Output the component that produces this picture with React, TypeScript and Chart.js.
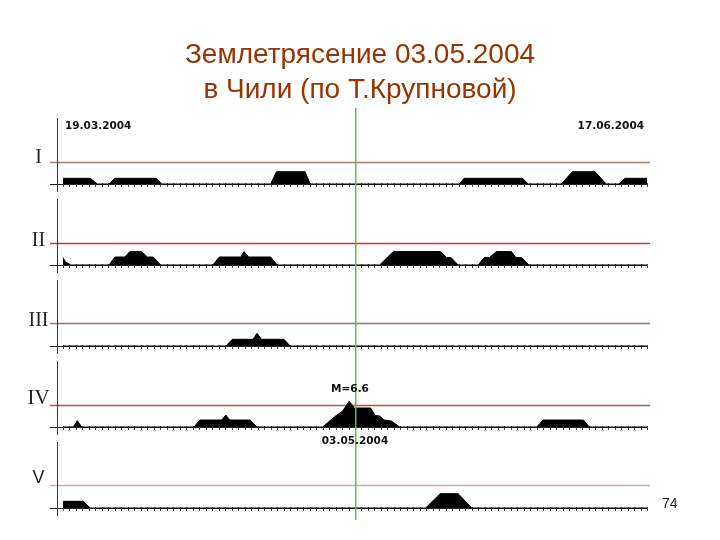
import React, { useEffect, useRef } from "react";
import { Chart, registerables } from "chart.js";

Chart.register(...registerables);

// ---------- text ----------
const TITLE_LINES = ["Землетрясение 03.05.2004", "в Чили (по Т.Крупновой)"];
const PANEL_NAMES = ["I", "II", "III", "IV", "V"];
const START_LABEL = "19.03.2004";
const END_LABEL = "17.06.2004";
const EVENT_LABEL = "03.05.2004";
const MAG_LABEL = "M=6.6";
const PAGE_NUMBER = "74";

// ---------- time axis (days since 19.03.2004) ----------
const DAY_COUNT = 90;
const EVENT_DAY = 45;

// ---------- threshold level of each panel ----------
const THRESHOLDS = [21.7, 22.4, 22.7, 22, 22.6];

// ---------- series: [day, value] ----------
const PANEL_I: [number, number][] = [
  [0, 5.7], [4.2, 5.7], [5.3, 0], [7.1, 0], [8, 5.7], [14.4, 5.7], [15.2, 0],
  [32, 0], [32.9, 12.3], [37.3, 12.3], [38.1, 0],
  [61.1, 0], [61.8, 5.7], [70.8, 5.7], [71.7, 0],
  [76.8, 0], [78.5, 12.3], [82, 12.3], [83.7, 0],
  [85.7, 0], [86.6, 5.7], [90, 5.7],
];
const PANEL_II: [number, number][] = [
  [0, 7.4], [0.4, 3], [1.2, 0], [7.1, 0], [8, 8], [9.55, 8], [10.3, 13.4], [12.1, 13.4],
  [13, 8], [13.9, 8], [15.05, 0],
  [23.1, 0], [24.1, 8], [27.4, 8], [27.9, 13.4], [28.6, 8], [32, 8], [33, 0],
  [48.8, 0], [50.9, 13.4], [58.2, 13.4], [59.1, 7.4], [59.8, 7.4], [60.9, 0],
  [64, 0], [64.9, 7.4], [65.7, 7.4], [66.8, 13.4], [69.1, 13.4], [69.8, 7.4], [70.7, 7.4], [71.8, 0],
  [90, 0],
];
const PANEL_III: [number, number][] = [
  [0, 0], [25.1, 0], [26.1, 6.7], [29.3, 6.7], [29.9, 12.7], [30.6, 6.7], [34.05, 6.7], [35, 0],
  [90, 0],
];
const PANEL_IV: [number, number][] = [
  [0, 0], [1.6, 0], [2.2, 6.3], [2.9, 0],
  [20.2, 0], [21.1, 7], [24.45, 7], [25.1, 12], [25.7, 7], [28.8, 7], [29.9, 0],
  [40, 0], [41.8, 10], [43.1, 16], [44.1, 25.7], [44.6, 21.7], [45, 18], [45.1, 19],
  [47.4, 19], [48.1, 11.5], [48.8, 11], [49.5, 7], [50.6, 6], [51.9, 0],
  [73, 0], [74, 7], [80.2, 7], [81.1, 0],
  [90, 0],
];
const PANEL_V: [number, number][] = [
  [0, 6.7], [3.1, 6.7], [4.2, 0], [55.9, 0], [58.1, 14.3], [60.9, 14.3], [63, 0], [90, 0],
];
const PANELS = [PANEL_I, PANEL_II, PANEL_III, PANEL_IV, PANEL_V];

// ---------- layout / styles ----------
const W = 720;
const H = 540;
const AREA_LEFT = 50;
const AREA_RIGHT = 650;
const AREA_TOP = 100;
const AREA_BOTTOM = 530;
const X_MIN = -2;
const X_MAX = 90.46;
const FIRST_BASELINE = 184;
const PANEL_STEP = 81;
const THRESHOLD_COLORS = ["#b07868", "#cc3344", "#9a7070", "#b05a40", "#d8a0b8"];
const NAME_Y_OFFSETS = [-26, -24, -25, -29, -30];
const NAME_FONTS = [
  "20px 'Liberation Serif', 'DejaVu Serif', serif",
  "20px 'Liberation Serif', 'DejaVu Serif', serif",
  "20px 'Liberation Serif', 'DejaVu Serif', serif",
  "21px 'Liberation Serif', 'DejaVu Serif', serif",
  "18px 'Liberation Sans', Arial, sans-serif",
];
const SMALL_BOLD = "bold 10.5px 'DejaVu Sans', Verdana, sans-serif";
const EVENT_LINE_COLOR = "rgb(80, 200, 60)";

const baselineOf = (k: number) => FIRST_BASELINE + k * PANEL_STEP;

const overlayPlugin = {
  id: "seismoOverlay",
  beforeDatasetsDraw(chart: any) {
    const ctx = chart.ctx as CanvasRenderingContext2D;
    const xs = chart.scales.x;
    const { left, right } = chart.chartArea;
    ctx.save();
    PANELS.forEach((_, k) => {
      const ys = chart.scales["y" + k];
      const y0 = Math.round(ys.getPixelForValue(0)) + 0.5;
      const yt = Math.round(ys.getPixelForValue(THRESHOLDS[k])) + 0.5;
      // threshold line
      ctx.strokeStyle = THRESHOLD_COLORS[k];
      ctx.lineWidth = 1.3;
      ctx.beginPath();
      ctx.moveTo(left, yt);
      ctx.lineTo(right, yt);
      ctx.stroke();
      // baseline
      ctx.strokeStyle = "#222";
      ctx.lineWidth = 1;
      ctx.beginPath();
      ctx.moveTo(left, y0);
      ctx.lineTo(xs.getPixelForValue(DAY_COUNT) + 1, y0);
      ctx.stroke();
      // daily ticks
      ctx.strokeStyle = "#444";
      ctx.beginPath();
      for (let d = 0; d <= DAY_COUNT; d++) {
        const x = Math.round(xs.getPixelForValue(d)) + 0.5;
        ctx.moveTo(x, y0 - 1.5);
        ctx.lineTo(x, y0 + 2.5);
      }
      ctx.stroke();
      // vertical axis of panel
      const ax = Math.round(xs.getPixelForValue(-0.9)) + 0.5;
      ctx.strokeStyle = "#333";
      ctx.beginPath();
      ctx.moveTo(ax, ys.getPixelForValue(66));
      ctx.lineTo(ax, ys.getPixelForValue(-8));
      ctx.stroke();
    });
    ctx.restore();
  },
  afterDatasetsDraw(chart: any) {
    const ctx = chart.ctx as CanvasRenderingContext2D;
    const xs = chart.scales.x;
    ctx.save();
    // event line
    const ex = Math.round(xs.getPixelForValue(EVENT_DAY));
    ctx.fillStyle = EVENT_LINE_COLOR;
    ctx.fillRect(ex, 108, 1.5, 412);

    // title
    ctx.fillStyle = "#993300";
    ctx.font = "28px 'Liberation Sans', Arial, sans-serif";
    ctx.textAlign = "center";
    ctx.textBaseline = "alphabetic";
    ctx.fillText(TITLE_LINES[0], W / 2, 63);
    ctx.fillText(TITLE_LINES[1], W / 2, 98);

    // panel names
    ctx.fillStyle = "#222";
    ctx.textBaseline = "middle";
    PANEL_NAMES.forEach((name, k) => {
      ctx.font = NAME_FONTS[k];
      ctx.textAlign = "center";
      ctx.fillText(name, 38.5, baselineOf(k) + NAME_Y_OFFSETS[k]);
    });

    // date labels
    ctx.font = SMALL_BOLD;
    ctx.fillStyle = "#111";
    ctx.textAlign = "left";
    ctx.fillText(START_LABEL, xs.getPixelForValue(0) + 2, 126);
    ctx.textAlign = "right";
    ctx.fillText(END_LABEL, xs.getPixelForValue(DAY_COUNT) - 3, 126);
    ctx.textAlign = "center";
    ctx.fillText(MAG_LABEL, xs.getPixelForValue(EVENT_DAY) - 5, 389);
    ctx.fillText(EVENT_LABEL, xs.getPixelForValue(EVENT_DAY), 441);

    // page number
    ctx.font = "14px 'Liberation Sans', Arial, sans-serif";
    ctx.fillStyle = "#222";
    ctx.textAlign = "left";
    ctx.fillText(PAGE_NUMBER, 662, 504);
    ctx.restore();
  },
};

export default function App() {
  const ref = useRef<HTMLCanvasElement | null>(null);

  useEffect(() => {
    if (!ref.current) return;
    const scales: any = {
      x: { type: "linear", display: false, min: X_MIN, max: X_MAX },
    };
    PANELS.forEach((_, k) => {
      const b = baselineOf(k);
      scales["y" + k] = {
        type: "linear",
        display: false,
        min: b - AREA_BOTTOM,
        max: b - AREA_TOP,
      };
    });
    const chart = new Chart(ref.current, {
      type: "line",
      data: {
        datasets: PANELS.map((pts, k) => ({
          label: PANEL_NAMES[k],
          data: pts.map(([x, y]) => ({ x, y })),
          yAxisID: "y" + k,
          fill: "origin",
          backgroundColor: "#000",
          borderColor: "#000",
          borderWidth: 1,
          pointRadius: 0,
          tension: 0,
        })),
      },
      options: {
        responsive: false,
        animation: false,
        layout: {
          padding: {
            left: AREA_LEFT,
            right: W - AREA_RIGHT,
            top: AREA_TOP,
            bottom: H - AREA_BOTTOM,
          },
        },
        scales,
        plugins: {
          legend: { display: false },
          title: { display: false },
          tooltip: { enabled: false },
        },
        events: [],
      },
      plugins: [overlayPlugin],
    });
    return () => chart.destroy();
  }, []);

  return (
    <div
      style={{
        position: "absolute",
        left: 0,
        top: 0,
        width: W,
        height: H,
        background: "#fff",
      }}
    >
      <canvas ref={ref} width={W} height={H} style={{ display: "block" }} />
    </div>
  );
}
